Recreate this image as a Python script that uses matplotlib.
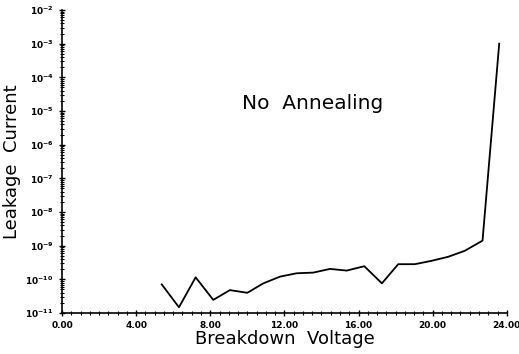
import matplotlib
matplotlib.use("Agg")
import matplotlib.pyplot as plt
import numpy as np
from matplotlib.ticker import FixedLocator, MultipleLocator, FuncFormatter, LogLocator

voltage = [5.38, 6.31, 7.21, 8.16, 9.06, 10.0, 10.86, 11.76, 12.66, 13.56, 14.46,
           15.36, 16.31, 17.26, 18.14, 19.04, 19.94, 20.84, 21.74, 22.69, 23.59]
log_current = [-10.15, -10.83, -9.94, -10.61, -10.32, -10.40, -10.12, -9.92, -9.82,
               -9.80, -9.69, -9.74, -9.61, -10.12, -9.55, -9.55, -9.45, -9.33, -9.15,
               -8.85, -3.0]
current = [10 ** v for v in log_current]
x_ticks = [0, 4, 8, 12, 16, 20, 24]
y_exponents = list(range(-11, -1))

fig = plt.figure(figsize=(5.19, 3.54), dpi=100)
ax = fig.add_axes([0.1195, 0.1158, 0.857, 0.856])
ax.plot(voltage, current, color='black', lw=1.3)
ax.set_yscale('log')
ax.set_xlim(0, 24)
ax.set_ylim(1e-11, 1e-2)
ax.spines['top'].set_visible(False)
ax.spines['right'].set_visible(False)
ax.spines['left'].set_linewidth(1.2)
ax.spines['bottom'].set_linewidth(1.2)

ax.xaxis.set_major_locator(FixedLocator(x_ticks))
ax.xaxis.set_minor_locator(MultipleLocator(0.5))
ax.xaxis.set_major_formatter(FuncFormatter(lambda v, p: f"{v:.2f}"))
ax.yaxis.set_major_locator(FixedLocator([10.0 ** e for e in y_exponents]))
ax.yaxis.set_minor_locator(LogLocator(base=10, subs=np.arange(2, 10), numticks=20))
ax.yaxis.set_major_formatter(FuncFormatter(lambda v, p: r"$\mathbf{10^{%d}}$" % round(np.log10(v))))

ax.tick_params(axis='both', which='major', direction='inout', length=5, width=1, labelsize=6.5)
ax.tick_params(axis='both', which='minor', direction='inout', length=3, width=0.8)
for lab in ax.get_xticklabels():
    lab.set_fontweight('bold')

ax.set_xlabel("Breakdown  Voltage", fontsize=13, labelpad=0)
ax.set_ylabel("Leakage  Current", fontsize=13, labelpad=3)
ax.text(0.563, 0.693, "No  Annealing", transform=ax.transAxes, fontsize=14.5,
        ha='center', va='center')

fig.savefig("out.png", dpi=100)
